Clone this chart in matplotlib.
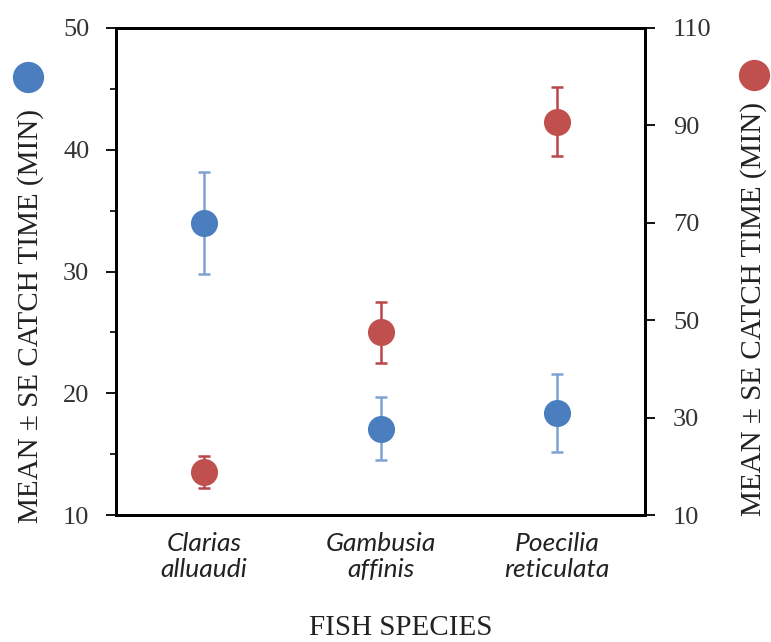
import matplotlib
matplotlib.use('Agg')
import matplotlib.pyplot as plt
from matplotlib.lines import Line2D
from matplotlib.ticker import MultipleLocator

# catch time per species, left axis (blue) and right axis (red)
species = ['Clarias\nalluaudi', 'Gambusia\naffinis', 'Poecilia\nreticulata']
blue_mean = [34.0, 17.1, 18.4]
blue_se = [4.2, 2.6, 3.2]
red_mean = [18.8, 47.5, 90.8]
red_se = [3.3, 6.2, 7.0]

left_ticks = [10, 20, 30, 40, 50]
right_ticks = [10, 30, 50, 70, 90, 110]

blue = '#4A7EBF'
blue_err = '#7FA2D3'
red = '#C0504D'
red_err = '#B8464A'

serif = 'Liberation Serif'
ylab = 'MEAN \u00b1 SE CATCH TIME (MIN)'
W, H = 771, 642

fig = plt.figure(figsize=(7.71, 6.42), dpi=100)
ax = fig.add_axes([116 / W, 1 - 515 / H, (645 - 116) / W, (515 - 28) / H])
ax2 = ax.twinx()

x = [1, 2, 3]
ax.errorbar(x, blue_mean, yerr=blue_se, fmt='none', ecolor=blue_err,
            elinewidth=1.8, capsize=4, capthick=1.8, zorder=2)
ax.plot(x, blue_mean, 'o', color=blue, ms=19.5, mew=0, zorder=3)
ax2.errorbar(x, red_mean, yerr=red_se, fmt='none', ecolor=red_err,
             elinewidth=1.8, capsize=4, capthick=1.8, zorder=2)
ax2.plot(x, red_mean, 'o', color=red, ms=19.5, mew=0, zorder=3)

ax.set_xlim(0.5, 3.5)
ax.set_ylim(10, 50)
ax2.set_ylim(10, 110)
ax.set_yticks(left_ticks)
ax.yaxis.set_minor_locator(MultipleLocator(5))
ax2.set_yticks(right_ticks)
ax.set_xticks(x)
ax.set_xticklabels(species, fontfamily='Lato', fontstyle='italic', fontsize=19,
                   linespacing=1.2, color='#222222')

for a in (ax, ax2):
    for s in a.spines.values():
        s.set_linewidth(2)
        s.set_color('black')
ax.tick_params(axis='x', length=0, pad=12)
ax.tick_params(axis='y', which='major', direction='out', length=7.2, width=1.3,
               labelsize=19, pad=12)
ax.tick_params(axis='y', which='minor', direction='out', length=4.3, width=1.2)
ax2.tick_params(axis='y', direction='out', length=7.2, width=1.3, labelsize=19, pad=13)
for lab in ax.get_yticklabels() + ax2.get_yticklabels():
    lab.set_fontfamily(serif)
    lab.set_color('#333333')

fig.text(401 / W, 1 - 628 / H, 'FISH SPECIES', ha='center', va='center',
         fontfamily=serif, fontsize=21, color='#222222')
fig.text(31 / W, 1 - 316 / H, ylab, rotation=90, ha='center', va='center',
         fontfamily=serif, fontsize=21, color='#222222')
fig.text(754 / W, 1 - 309 / H, ylab, rotation=90, ha='center', va='center',
         fontfamily=serif, fontsize=21, color='#222222')

# marker keys beside the axis labels
fig.add_artist(Line2D([28 / W], [1 - 77 / H], transform=fig.transFigure, marker='o',
                      ms=22.5, mew=0, color=blue, linestyle='none'))
fig.add_artist(Line2D([754 / W], [1 - 75 / H], transform=fig.transFigure, marker='o',
                      ms=22.5, mew=0, color=red, linestyle='none'))

fig.savefig('out.png', dpi=100)
